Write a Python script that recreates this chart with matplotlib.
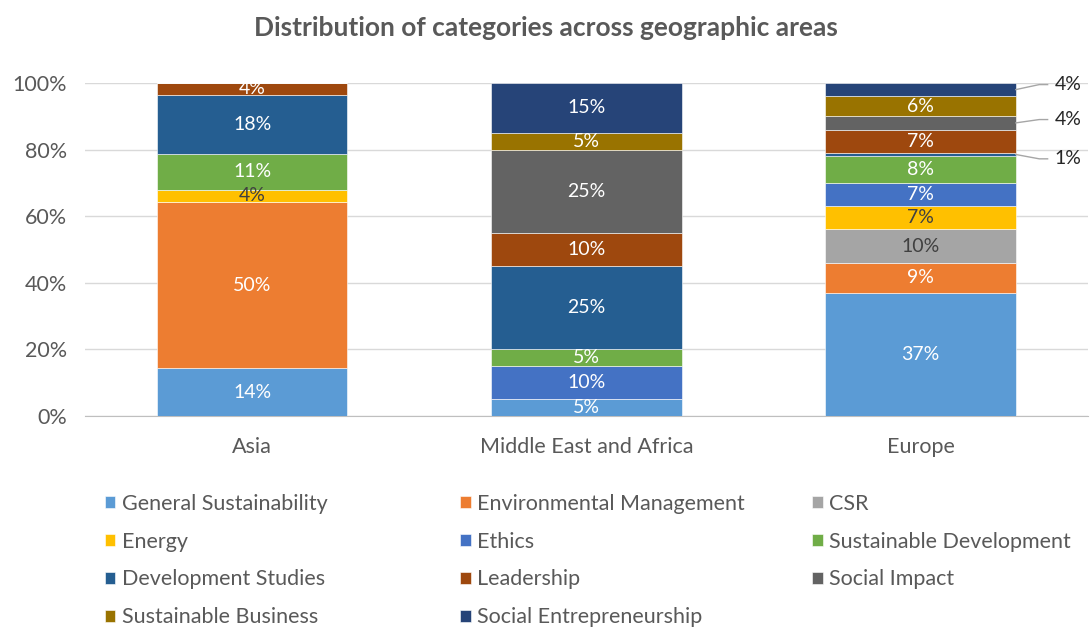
import matplotlib.pyplot as plt
import numpy as np

plt.rcParams['font.family'] = ['Lato', 'DejaVu Sans']

# regions on the x axis
regions = ["Asia", "Middle East and Africa", "Europe"]

series = ["General Sustainability", "Environmental Management", "CSR",
          "Energy", "Ethics", "Sustainable Development",
          "Development Studies", "Leadership", "Social Impact",
          "Sustainable Business", "Social Entrepreneurship"]

# share of each series per region (percent), same order as series
asia = [14.3, 50.0, 0, 3.6, 0, 10.7, 17.9, 3.6, 0, 0, 0]
mea = [5, 0, 0, 0, 10, 5, 25, 10, 25, 5, 15]
europe = [37, 9, 10, 7, 7, 8, 1, 7, 4, 6, 4]

colors = ["#5B9BD5", "#ED7D31", "#A5A5A5", "#FFC000", "#4472C4", "#70AD47",
          "#255E91", "#9E480E", "#636363", "#997300", "#264478"]
dark_text = {"CSR", "Energy"}

values = np.array([asia, mea, europe]).T / 100.0

fig = plt.figure(figsize=(10.91, 6.33), dpi=100)
ax = fig.add_axes([0.078, 0.343, 0.919, 0.526])

x = np.arange(len(regions))
bw = 0.57
bottom = np.zeros(len(regions))
handles = []
for name, vals, col in zip(series, values, colors):
    h = ax.bar(x, vals, bw, bottom=bottom, color=col, label=name,
               edgecolor="white", linewidth=0.4, zorder=3)
    handles.append(h)
    tc = "#404040" if name in dark_text else "white"
    for i, v in enumerate(vals):
        if v <= 0:
            continue
        # small Europe segments get outside labels with leader lines
        if i == 2 and v < 0.05:
            continue
        ax.text(x[i], bottom[i] + v / 2, f"{v * 100:.0f}%", ha="center",
                va="center", color=tc, fontsize=14, zorder=4)
    bottom += vals

# outside labels for the thin Europe segments
outside = [("Social Entrepreneurship", 0.995), ("Social Impact", 0.89),
           ("Development Studies", 0.772)]
for name, ly in outside:
    k = series.index(name)
    v = values[k, 2]
    cy = values[:k, 2].sum() + v / 2
    x0 = x[2] + bw / 2
    ax.plot([x0, x0 + 0.07, x0 + 0.095], [cy, ly, ly], color="#A6A6A6",
            lw=1, clip_on=False, zorder=4)
    ax.text(x0 + 0.115, ly, f"{v * 100:.0f}%", ha="left", va="center",
            color="#262626", fontsize=14, clip_on=False)

ax.set_xlim(-0.5, 2.5)
ax.set_ylim(0, 1)
ax.set_yticks(np.arange(0, 1.01, 0.2))
ax.set_yticklabels([f"{t}%" for t in range(0, 101, 20)])
ax.set_xticks(x)
ax.set_xticklabels(regions)
ax.tick_params(length=0, colors="#595959", labelsize=15.5)
ax.tick_params(axis="x", pad=15)
ax.tick_params(axis="y", pad=13)
ax.yaxis.grid(True, color="#D9D9D9", lw=1, zorder=0)
for s in ["top", "right", "left"]:
    ax.spines[s].set_visible(False)
ax.spines["bottom"].set_color("#BFBFBF")

fig.suptitle("Distribution of categories across geographic areas", x=0.5, y=0.975,
             fontsize=19, fontweight="bold", color="#595959")

# legend laid out row by row, three columns
cols_x = [0.096, 0.4216, 0.7443]
for c, cx in enumerate(cols_x):
    idx = list(range(c, len(series), 3))
    fig.legend([handles[i] for i in idx], [series[i] for i in idx],
               loc="upper left", bbox_to_anchor=(cx, 0.22), ncol=1,
               frameon=False, fontsize=15.5, labelcolor="#595959",
               handlelength=0.5, handleheight=0.5, handletextpad=0.3,
               labelspacing=0.83, borderpad=0, borderaxespad=0)

fig.savefig("out.png", dpi=100)
